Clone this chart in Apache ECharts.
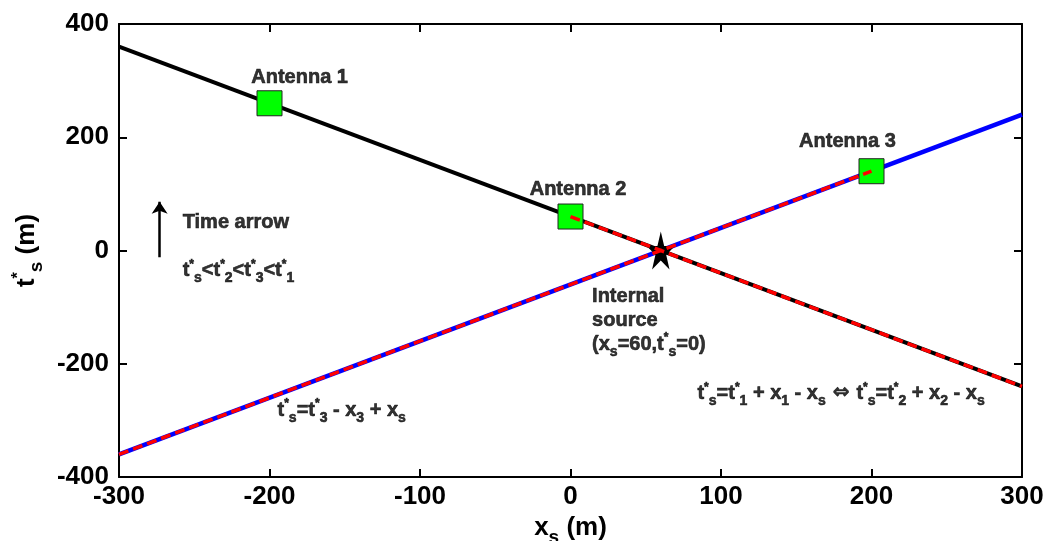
<!DOCTYPE html>
<html><head><meta charset="utf-8">
<script src="https://cdn.jsdelivr.net/npm/echarts@6/dist/echarts.min.js"></script>
<style>html,body{margin:0;padding:0;background:#fff}#c{width:1047px;height:541px}</style>
</head><body><div id="c"></div>
<script>
// ---- data ----
var xTicks = [-300, -200, -100, 0, 100, 200, 300];
var yTicks = [-400, -200, 0, 200, 400];
var blackLine = [[-300, 360], [300, -240]];        // t*s = t*1 + x1 - xs
var blueLine = [[-300, -360], [300, 240]];         // t*s = t*3 - x3 + xs
var redOnBlue = [[-300, -360], [200, 140]];
var redOnBlack = [[0, 60], [300, -240]];
var antennas = [[-200, 260], [0, 60], [200, 140]];
var source = [[60, 0]];
var arrow = [[-273, -12], [-273, 86]];
var annoText = ['Antenna 1', 'Antenna 2', 'Antenna 3', 'Time arrow', 'ineq', 'source', 'eq3', 'eq12'];
var annoPos = [[-180, 305], [5, 108], [184, 192], [-258, 49], [-258, -35], [14, -123], [-195, -282], [84, -252]];

var FONT = "'Liberation Sans', Arial, Helvetica, sans-serif";
var BF = 20;
function rich(base, heavy) {
  var bw = heavy ? 0.6 : 0;
  return {
    b: {fontSize: base, fontWeight: 'bold', fontFamily: FONT, color: '#000', textBorderColor: '#000', textBorderWidth: bw},
    ar: {fontSize: base, fontWeight: 'bold', fontFamily: "'DejaVu Sans', sans-serif", color: '#000', textBorderColor: '#000', textBorderWidth: bw},
    sb: {fontSize: Math.round(base * 0.72), fontWeight: 'bold', fontFamily: FONT, color: '#000', textBorderColor: '#000', textBorderWidth: bw, padding: [Math.round(base*0.75), 0, 0, 0]},
    sp: {fontSize: Math.round(base * 0.6), fontWeight: 'bold', fontFamily: FONT, color: '#000', textBorderColor: '#000', textBorderWidth: bw, padding: [0, 0, Math.round(base*0.6), 0]}
  };
}
var TS = '{b|t}{sp|*}{sb|s}';
function tk(n) { return '{b|t}{sp|*}{sb|' + n + '}'; }
var annoFmt = {
  'Antenna 1': '{b|Antenna 1}',
  'Antenna 2': '{b|Antenna 2}',
  'Antenna 3': '{b|Antenna 3}',
  'Time arrow': '{b|Time arrow}',
  'ineq': TS + '{b|<}' + tk(2) + '{b|<}' + tk(3) + '{b|<}' + tk(1),
  'source': '{b|Internal}\n{b|source}\n{b|(x}{sb|s}{b|=60,t}{sp|*}{sb|s}{b|=0)}',
  'eq3': TS + '{b|=}' + tk(3) + '{b| - x}{sb|3}{b| + x}{sb|s}',
  'eq12': TS + '{b|=}' + tk(1) + '{b| + x}{sb|1}{b| - x}{sb|s}{ar| \u21D4 }' + TS + '{b|=}' + tk(2) + '{b| + x}{sb|2}{b| - x}{sb|s}'
};
var centered = {'Antenna 1': 1, 'Antenna 2': 1, 'Antenna 3': 1};

var annoData = annoText.map(function (k, i) {
  return {
    value: annoPos[i],
    label: {
      show: true,
      position: centered[k] ? 'inside' : 'right',
      distance: 0,
      align: centered[k] ? 'center' : 'left',
      lineHeight: 24,
      color: '#000',
      formatter: annoFmt[k],
      rich: rich(BF, true)
    }
  };
});

var axisCommon = {
  type: 'value',
  axisLine: {show: true, onZero: false, lineStyle: {color: '#000', width: 2}},
  axisTick: {show: true, inside: true, length: 8, lineStyle: {color: '#000', width: 2}},
  splitLine: {show: false}
};
var tickFont = {fontSize: 26, fontWeight: 'bold', fontFamily: FONT, color: '#000'};

var chart = echarts.init(document.getElementById('c'), null, {renderer: 'canvas'});
chart.setOption({
  animation: false,
  backgroundColor: '#fff',
  grid: {left: 119, right: 25, top: 24, bottom: 64, containLabel: false, outerBoundsMode: 'none'},
  xAxis: [
    Object.assign({}, axisCommon, {
      min: xTicks[0], max: xTicks[xTicks.length - 1], interval: 100, position: 'bottom',
      axisLabel: Object.assign({margin: 7}, tickFont),
      name: '{b|x}{sb|s}{b| (m)}', nameLocation: 'middle', nameGap: 31,
      nameTextStyle: {rich: rich(26)}
    }),
    Object.assign({}, axisCommon, {
      min: xTicks[0], max: xTicks[xTicks.length - 1], interval: 100, position: 'top',
      axisLabel: {show: false}
    })
  ],
  yAxis: [
    Object.assign({}, axisCommon, {
      min: yTicks[0], max: yTicks[yTicks.length - 1], interval: 200, position: 'left',
      axisLabel: Object.assign({margin: 10}, tickFont),
      name: TS + '{b| (m)}', nameLocation: 'middle', nameGap: 72, nameRotate: 90,
      nameTextStyle: {rich: rich(26)}
    }),
    Object.assign({}, axisCommon, {
      min: yTicks[0], max: yTicks[yTicks.length - 1], interval: 200, position: 'right',
      axisLabel: {show: false}
    })
  ],
  series: [
    {type: 'line', data: blackLine, symbol: 'none', z: 2, lineStyle: {color: '#000', width: 4}},
    {type: 'line', data: blueLine, symbol: 'none', z: 2, lineStyle: {color: '#0000ff', width: 4.5}},
    {type: 'scatter', data: antennas, symbol: 'rect', symbolSize: 25, z: 3,
      itemStyle: {color: '#00ff00', borderColor: '#222', borderWidth: 1, opacity: 1}},
    {type: 'scatter', data: source, z: 3, symbolSize: [28, 38],
      symbol: 'path://M50,0 L61.8,36 L99,36 L69,58 L80.5,94 L50,72 L19.5,94 L31,58 L1,36 L38.2,36 Z',
      itemStyle: {color: '#000', opacity: 1}},
    {type: 'line', data: redOnBlue, symbol: 'none', z: 4, lineStyle: {color: '#ff0000', width: 3.5, type: [10, 5]}},
    {type: 'line', data: redOnBlack, symbol: 'none', z: 4, lineStyle: {color: '#ff0000', width: 3.5, type: [10, 5]}},
    {type: 'lines', coordinateSystem: 'cartesian2d', data: [{coords: arrow}], z: 4,
      symbol: ['none', 'arrow'], symbolSize: 12, lineStyle: {color: '#000', width: 2.5, opacity: 1}},
    {type: 'scatter', data: annoData, symbolSize: 1, z: 5, itemStyle: {color: 'rgba(0,0,0,0)'}, silent: true}
  ]
});
</script></body></html>
